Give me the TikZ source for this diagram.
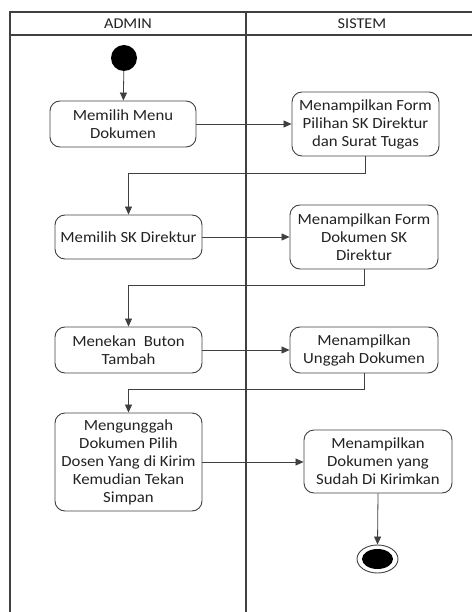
\documentclass[tikz,border=0pt]{standalone}
\usepackage{fontspec}
\setmainfont{Carlito}[FakeStretch=1.08]
\usetikzlibrary{arrows.meta,shapes.geometric}
\definecolor{linegray}{HTML}{404040}
\definecolor{textgray}{HTML}{222222}
\tikzset{
  lane/.style={draw=linegray, line width=1.1pt},
  act/.style={draw=linegray, line width=0.9pt, rounded corners=10pt, align=center,
    text=textgray, font=\fontsize{15.5pt}{18pt}\selectfont, inner sep=0pt},
  lanelabel/.style={text=textgray, font=\fontsize{15pt}{17pt}\selectfont},
  flow/.style={draw=linegray, line width=0.8pt, -{Triangle[length=8pt,width=7pt]}},
}
\begin{document}
\begin{tikzpicture}[x=1pt, y=-1pt]
\useasboundingbox (0,0) rectangle (472,612);
% swimlane frame
\draw[lane] (10,612) -- (10,12) -- (472,12);
\draw[lane] (10,35) -- (472,35);
\draw[lane] (246,12) -- (246,612);
\node[lanelabel] (hadmin) at (128,23.5) {ADMIN};
\node[lanelabel] (hsistem) at (362,23.5) {SISTEM};
% initial and final states
\node[circle, fill=black, minimum size=26pt, inner sep=0pt] (start) at (124,58) {};
\node[ellipse, draw=linegray, line width=0.9pt, minimum width=41pt, minimum height=28pt, inner sep=0pt] (stop) at (377.5,559) {};
\fill[black] (stop.center) ellipse [x radius=15.5pt, y radius=10pt];
% activities
\node[act, minimum width=146pt, minimum height=46pt] (b1) at (123,124) {Memilih Menu\\Dokumen};
\node[act, minimum width=147pt, minimum height=64pt] (b2) at (365.5,124) {Menampilkan Form\\Pilihan SK Direktur\\dan Surat Tugas};
\node[act, minimum width=147pt, minimum height=44pt] (b3) at (128.5,237) {Memilih SK Direktur};
\node[act, minimum width=148pt, minimum height=64pt] (b4) at (364,237) {Menampilkan Form\\Dokumen SK\\Direktur};
\node[act, minimum width=147pt, minimum height=46pt] (b5) at (128.5,350) {Menekan~ Buton\\Tambah};
\node[act, minimum width=148pt, minimum height=46pt] (b6) at (364,350) {Menampilkan\\Unggah Dokumen};
\node[act, minimum width=147pt, minimum height=98pt] (b7) at (128.5,462) {Mengunggah\\Dokumen Pilih\\Dosen Yang di Kirim\\Kemudian Tekan\\Simpan};
\node[act, minimum width=148pt, minimum height=63pt] (b8) at (378,461.5) {Menampilkan\\Dokumen yang\\Sudah Di Kirimkan};
% transitions
\draw[flow] (start) -- (b1);
\draw[flow] (b1.east) -- (b2.west |- b1.east);
\draw[flow] (b2.south) -- ++(0,17) -| (b3.north);
\draw[flow] (b3.east) -- (b4.west |- b3.east);
\draw[flow] (b4.south) -- ++(0,16) -| (b5.north);
\draw[flow] (b5.east) -- (b6.west |- b5.east);
\draw[flow] (b6.south) -- ++(0,16) -| (b7.north);
\draw[flow] (b7.east) -- (b8.west |- b7.east);
\draw[flow] (b8.south) -- (stop.north);
\end{tikzpicture}
\end{document}
